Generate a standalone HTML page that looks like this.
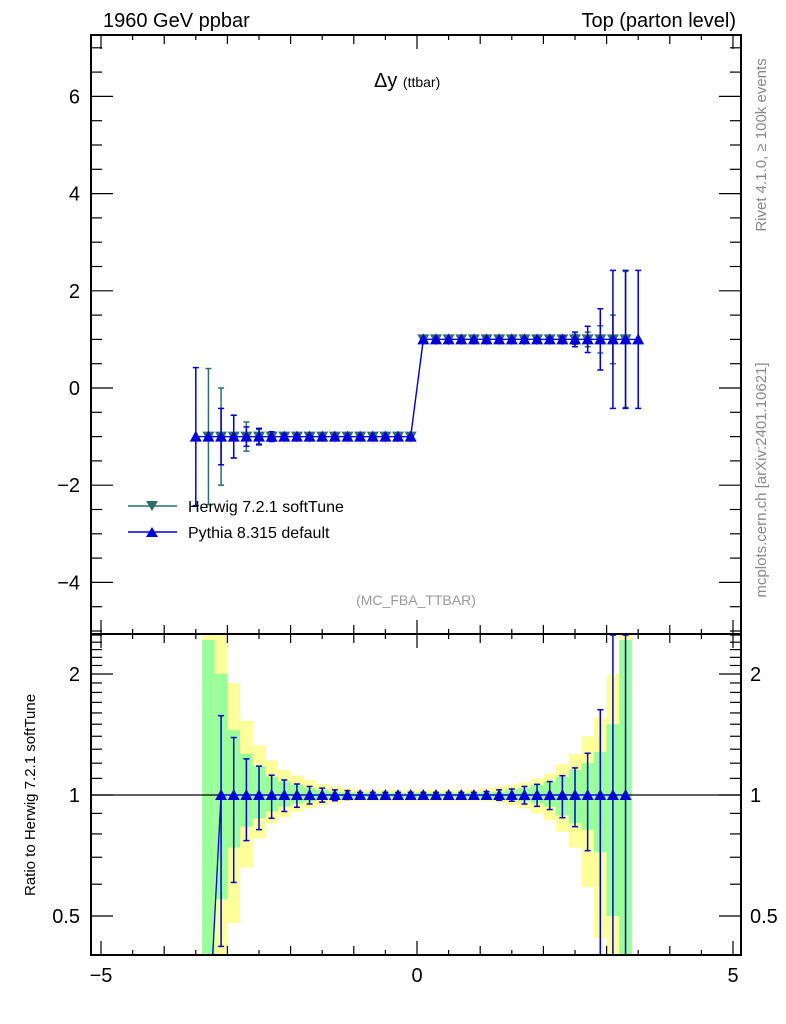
<!DOCTYPE html>
<html><head><meta charset="utf-8"><style>
body{margin:0;background:#fff}
svg{display:block;font-family:"Liberation Sans",sans-serif}
</style></head><body>
<svg id="c" width="786" height="1024" viewBox="0 0 786 1024">
<text x="103" y="27" font-size="20">1960 GeV ppbar</text>
<text x="736" y="27" font-size="20" text-anchor="end">Top (parton level)</text>
<text x="374" y="87" font-size="20">Δy <tspan font-size="14">(ttbar)</tspan></text>
<text x="416" y="605" font-size="14" fill="#999" text-anchor="middle">(MC_FBA_TTBAR)</text>
<text transform="translate(766,145) rotate(-90)" font-size="15" fill="#888" text-anchor="middle">Rivet 4.1.0, ≥ 100k events</text>
<text transform="translate(766,480) rotate(-90)" font-size="15" fill="#888" text-anchor="middle">mcplots.cern.ch [arXiv:2401.10621]</text>
<text transform="translate(35,795) rotate(-90)" font-size="15" text-anchor="middle">Ratio to Herwig 7.2.1 softTune</text>
<g id="bands"></g><g id="marks"></g><g id="axes"></g>
<g>
<line x1="128" y1="506" x2="177" y2="506" stroke="#2c6e6e" stroke-width="1.5"/>
<path d="M146,501 L158,501 L152,511 Z" fill="#2c6e6e"/>
<text x="188" y="512" font-size="16">Herwig 7.2.1 softTune</text>
<line x1="128" y1="532" x2="177" y2="532" stroke="#0000dd" stroke-width="1.5"/>
<path d="M146,537 L158,537 L152,527 Z" fill="#0000dd"/>
<text x="188" y="538" font-size="16">Pythia 8.315 default</text>
</g>
</svg>
<script>
const herwigX=[-3.3,-3.1,-2.9,-2.7,-2.5,-2.3,-2.1,-1.9,-1.7,-1.5,-1.3,-1.1,-0.9,-0.7,-0.5,-0.3,-0.1,0.1,0.3,0.5,0.7,0.9,1.1,1.3,1.5,1.7,1.9,2.1,2.3,2.5,2.7,2.9,3.1,3.3];
const herwigY=[-1,-1,-1,-1,-1,-1,-1,-1,-1,-1,-1,-1,-1,-1,-1,-1,-1,1,1,1,1,1,1,1,1,1,1,1,1,1,1,1,1,1];
const herwigErr=[1.4,1.0,0.44,0.3,0.15,0.08,0.05,0.03,0.02,0.02,0.01,0.01,0.01,0.01,0.01,0.01,0.01,0.01,0.01,0.01,0.01,0.01,0.01,0.01,0.02,0.02,0.03,0.04,0.05,0.1,0.15,0.28,0.5,1.4];
const pythiaX=[-3.5,-3.3,-3.1,-2.9,-2.7,-2.5,-2.3,-2.1,-1.9,-1.7,-1.5,-1.3,-1.1,-0.9,-0.7,-0.5,-0.3,-0.1,0.1,0.3,0.5,0.7,0.9,1.1,1.3,1.5,1.7,1.9,2.1,2.3,2.5,2.7,2.9,3.1,3.3,3.5];
const pythiaY=[-1,-1,-1,-1,-1,-1,-1,-1,-1,-1,-1,-1,-1,-1,-1,-1,-1,-1,1,1,1,1,1,1,1,1,1,1,1,1,1,1,1,1,1,1];
const pythiaErr=[1.42,0,0.58,0.44,0.2,0.17,0.1,0.06,0.04,0.03,0.02,0.02,0.01,0.01,0.01,0.01,0.01,0.01,0.01,0.01,0.01,0.01,0.01,0.01,0.02,0.02,0.03,0.03,0.04,0.07,0.15,0.27,0.63,1.42,1.42,1.42];
const greenUp=[2.43,2.0,1.45,1.265,1.18,1.11,1.08,1.06,1.04,1.03,1.02,1.015,1.013,1.013,1.013,1.013,1.013,1.013,1.013,1.013,1.013,1.013,1.015,1.02,1.03,1.04,1.06,1.08,1.11,1.154,1.2,1.28,1.5,2.43];
const greenDn=[0.4,0.55,0.74,0.834,0.875,0.91,0.935,0.953,0.963,0.972,0.978,0.981,0.983,0.983,0.983,0.983,0.983,0.983,0.983,0.983,0.983,0.983,0.981,0.978,0.972,0.963,0.953,0.935,0.89,0.85,0.82,0.72,0.5,0.4];
const yellowUp=[2.5,2.5,1.9,1.53,1.33,1.22,1.154,1.117,1.09,1.065,1.05,1.04,1.03,1.03,1.03,1.03,1.03,1.03,1.03,1.03,1.03,1.03,1.04,1.05,1.06,1.073,1.1,1.13,1.19,1.265,1.4,1.56,2.0,2.5];
const yellowDn=[0.4,0.4,0.48,0.66,0.78,0.85,0.88,0.909,0.927,0.944,0.957,0.965,0.968,0.968,0.968,0.968,0.968,0.968,0.968,0.968,0.968,0.968,0.965,0.957,0.944,0.927,0.9,0.866,0.81,0.74,0.59,0.44,0.4,0.4];
const ratioX=[-3.3,-3.1,-2.9,-2.7,-2.5,-2.3,-2.1,-1.9,-1.7,-1.5,-1.3,-1.1,-0.9,-0.7,-0.5,-0.3,-0.1,0.1,0.3,0.5,0.7,0.9,1.1,1.3,1.5,1.7,1.9,2.1,2.3,2.5,2.7,2.9,3.1,3.3];
const ratioY=[0.25,1,1,1,1,1,1,1,1,1,1,1,1,1,1,1,1,1,1,1,1,1,1,1,1,1,1,1,1,1,1,1,1,1];
const ratioUp=[0.25,1.575,1.39,1.23,1.18,1.12,1.09,1.065,1.05,1.04,1.03,1.025,1.015,1.015,1.015,1.015,1.015,1.015,1.015,1.015,1.015,1.015,1.02,1.03,1.035,1.05,1.063,1.08,1.117,1.168,1.27,1.63,2.5,2.5];
const ratioDn=[0.25,0.42,0.606,0.77,0.82,0.875,0.91,0.932,0.95,0.96,0.968,0.975,0.985,0.985,0.985,0.985,0.985,0.985,0.985,0.985,0.985,0.985,0.98,0.97,0.965,0.95,0.937,0.92,0.878,0.834,0.727,0.3,0.3,0.3];
const mainYTicks=[-4,-2,0,2,4,6];
const mainYLabels=["\u22124","\u22122","0","2","4","6"];
const xTicks=[-5,0,5];
const xLabels=["\u22125","0","5"];
const ratioTicks=[0.5,1,2];
const ratioLabels=["0.5","1","2"];

const L=91,R=741,T=35,MB=634,RB=955;
const sx=v=>417+v*63.2;
const sy=v=>388-v*48.6;
const sr=v=>795-Math.log2(v)*121;
const NS="http://www.w3.org/2000/svg";
function mk(p,tag,at){const e=document.createElementNS(NS,tag);for(const k in at)e.setAttribute(k,at[k]);p.appendChild(e);return e;}
const bands=document.getElementById('bands'),marks=document.getElementById('marks'),axes=document.getElementById('axes');
const clipR=v=>Math.min(RB,Math.max(MB,v));
// bands
herwigX.forEach((x,i)=>{
  const x0=sx(x-0.1),x1=sx(x+0.1);
  let y=mk(bands,'rect',{x:x0,y:clipR(sr(yellowUp[i])),width:x1-x0,height:clipR(sr(yellowDn[i]))-clipR(sr(yellowUp[i])),fill:'#ffff99'});
  
  
  let g=mk(bands,'rect',{x:x0,y:clipR(sr(greenUp[i])),width:x1-x0,height:clipR(sr(greenDn[i]))-clipR(sr(greenUp[i])),fill:'#99ff99'});
  
  
});
// ratio line at 1
mk(marks,'line',{x1:L,x2:R,y1:sr(1),y2:sr(1),stroke:'#000','stroke-width':1.2});
function series(xs,ys,errs,color,down,name){
  const pts=xs.map((x,i)=>sx(x)+','+sy(ys[i])).join(' ');
  let pl=mk(marks,'polyline',{points:pts,fill:'none',stroke:color,'stroke-width':1.3});
  
  
  xs.forEach((x,i)=>{
    const cx=sx(x),cy=sy(ys[i]),e=errs[i];
    if(e>0){
      const t=Math.max(T,sy(ys[i]+e)),b=Math.min(MB,sy(ys[i]-e));
      mk(marks,'line',{x1:cx,x2:cx,y1:t,y2:b,stroke:color,'stroke-width':1.5});
      if(sy(ys[i]+e)>T)mk(marks,'line',{x1:cx-3,x2:cx+3,y1:t,y2:t,stroke:color,'stroke-width':1.5});
      if(sy(ys[i]-e)<MB)mk(marks,'line',{x1:cx-3,x2:cx+3,y1:b,y2:b,stroke:color,'stroke-width':1.5});
    }
    const d=down?`M${cx-6},${cy-5} L${cx+6},${cy-5} L${cx},${cy+6} Z`:`M${cx-6},${cy+5} L${cx+6},${cy+5} L${cx},${cy-6} Z`;
    let m=mk(marks,'path',{d:d,fill:color});
    
    
  });
}
series(herwigX,herwigY,herwigErr,'#2c6e6e',true,'herwig');
series(pythiaX,pythiaY,pythiaErr,'#0000dd',false,'pythia');
// ratio series
const cl=document.createElementNS(NS,'clipPath');cl.setAttribute('id','rc');mk(cl,'rect',{x:L,y:MB,width:R-L,height:RB-MB});document.getElementById('c').appendChild(cl);
const rg=mk(marks,'g',{'clip-path':'url(#rc)'});
let rl=mk(rg,'polyline',{points:ratioX.map((x,i)=>sx(x)+','+sr(ratioY[i])).join(' '),fill:'none',stroke:'#0000dd','stroke-width':1.3});


ratioX.forEach((x,i)=>{
  const cx=sx(x),cy=sr(ratioY[i]);
  if(ratioY[i]<0.4)return;
  const t=sr(ratioUp[i]),b=sr(ratioDn[i]);
  mk(rg,'line',{x1:cx,x2:cx,y1:t,y2:b,stroke:'#0000dd','stroke-width':1.5});
  mk(rg,'line',{x1:cx-3,x2:cx+3,y1:t,y2:t,stroke:'#0000dd','stroke-width':1.5});
  mk(rg,'line',{x1:cx-3,x2:cx+3,y1:b,y2:b,stroke:'#0000dd','stroke-width':1.5});
  let m=mk(rg,'path',{d:`M${cx-6},${cy+5} L${cx+6},${cy+5} L${cx},${cy-6} Z`,fill:'#0000dd'});
  
  
});
// frames
[[T,MB],[MB,RB]].forEach(([a,b])=>mk(axes,'rect',{x:L,y:a,width:R-L,height:b-a,fill:'none',stroke:'#000','stroke-width':2}));
// x ticks
for(let k=-10;k<=10;k++){const v=k/2;const x=sx(v);if(x<L||x>R)continue;
  const len=(k%10===0)?14:(k%2===0?9:5);
  [[T,1],[MB,-1],[MB,1],[RB,-1]].forEach(([y0,s])=>mk(axes,'line',{x1:x,x2:x,y1:y0,y2:y0+s*len,stroke:'#000','stroke-width':1.2}));
}
xTicks.forEach((v,i)=>{let t=mk(axes,'text',{x:sx(v),y:982,'font-size':20,'text-anchor':'middle'});t.textContent=xLabels[i];
  
  });
// main y ticks
for(let k=-10;k<=14;k++){const v=k/2;const y=sy(v);if(y<T||y>MB)continue;const len=k%4===0?22:11;
  mk(axes,'line',{x1:L,x2:L+len,y1:y,y2:y,stroke:'#000','stroke-width':1.2});
  mk(axes,'line',{x1:R,x2:R-len,y1:y,y2:y,stroke:'#000','stroke-width':1.2});}
mainYTicks.forEach((v,i)=>{let t=mk(axes,'text',{x:80,y:sy(v)+7,'font-size':20,'text-anchor':'end'});t.textContent=mainYLabels[i];
  
  });
// ratio y ticks
for(let k=4;k<=25;k++){const v=k/10;const y=sr(v);if(y<MB||y>RB)continue;const maj=(k===5||k===10||k===20);const len=maj?22:11;
  mk(axes,'line',{x1:L,x2:L+len,y1:y,y2:y,stroke:'#000','stroke-width':1.2});
  mk(axes,'line',{x1:R,x2:R-len,y1:y,y2:y,stroke:'#000','stroke-width':1.2});}
ratioTicks.forEach((v,i)=>{[80,750].forEach((x,j)=>{let t=mk(axes,'text',{x:x,y:sr(v)+7,'font-size':20,'text-anchor':j?'start':'end'});t.textContent=ratioLabels[i];
  
  });});
</script>
</body></html>
